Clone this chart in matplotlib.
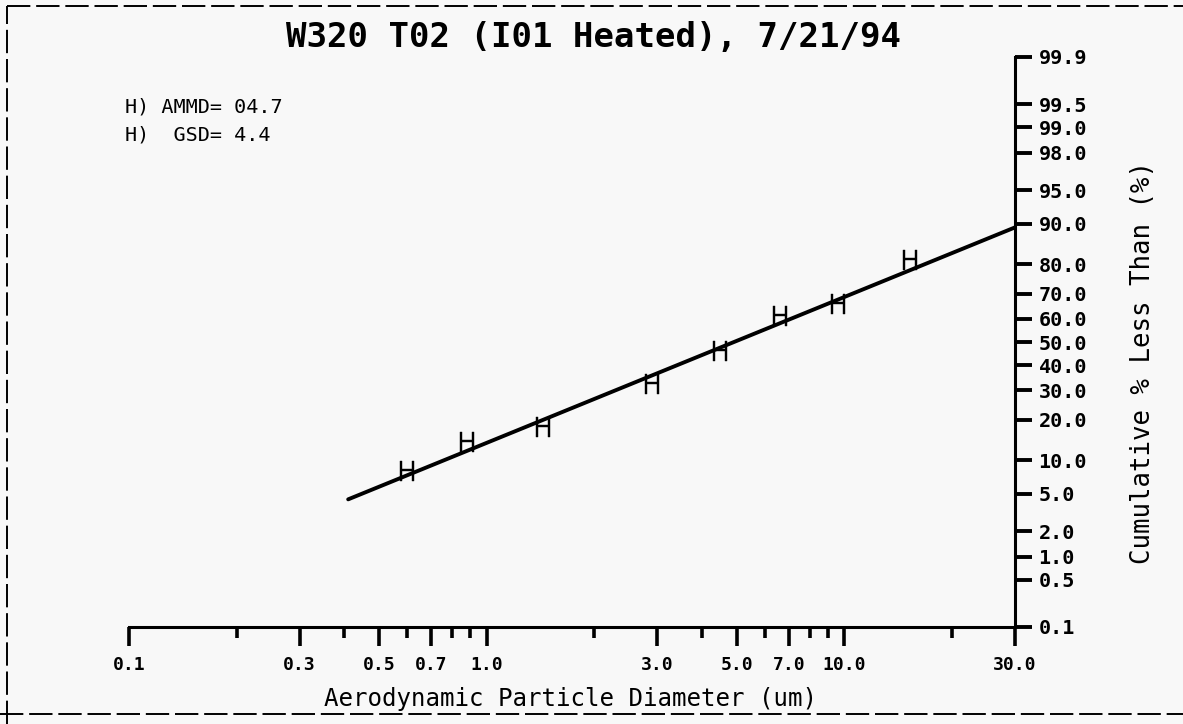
import math
from statistics import NormalDist
import numpy as np
import matplotlib
matplotlib.use("Agg")
import matplotlib.pyplot as plt
from matplotlib.ticker import FixedLocator, FixedFormatter, NullFormatter
from matplotlib.lines import Line2D

# ---- data ----
diameters = [0.60, 0.88, 1.44, 2.89, 4.49, 6.61, 9.61, 15.3]          # um
cum_percent = [8.1, 13.8, 17.7, 32.5, 46.3, 60.9, 65.8, 81.4]          # % less than
fit_diam = [0.41, 30.0]
fit_percent = [4.4, 89.3]

x_major = [0.1, 0.3, 0.5, 0.7, 1.0, 3.0, 5.0, 7.0, 10.0, 30.0]
x_major_labels = ["0.1", "0.3", "0.5", "0.7", "1.0", "3.0", "5.0", "7.0", "10.0", "30.0"]
x_minor = [0.2, 0.4, 0.6, 0.8, 0.9, 2.0, 4.0, 6.0, 8.0, 9.0, 20.0]
y_ticks = [0.1, 0.5, 1.0, 2.0, 5.0, 10.0, 20.0, 30.0, 40.0, 50.0, 60.0,
           70.0, 80.0, 90.0, 95.0, 98.0, 99.0, 99.5, 99.9]
y_tick_labels = ["0.1", "0.5", "1.0", "2.0", "5.0", "10.0", "20.0", "30.0", "40.0",
                 "50.0", "60.0", "70.0", "80.0", "90.0", "95.0", "98.0", "99.0",
                 "99.5", "99.9"]

title = "W320 T02 (I01 Heated), 7/21/94"
ann_lines = ["H) AMMD= 04.7", "H)  GSD= 4.4"]
xlabel = "Aerodynamic Particle Diameter (um)"
ylabel = "Cumulative % Less Than (%)"

# ---- probability (probit) scale ----
_nd = NormalDist()
_ppf = np.vectorize(_nd.inv_cdf, otypes=[float])
_erf = np.vectorize(math.erf, otypes=[float])


def fwd(p):
    p = np.asarray(p, dtype=float)
    q = np.clip(p / 100.0, 1e-9, 1 - 1e-9)
    return _ppf(q)


def inv(z):
    z = np.asarray(z, dtype=float)
    return 100.0 * 0.5 * (1.0 + _erf(z / math.sqrt(2.0)))


BG = "#f8f8f8"
mono = "DejaVu Sans Mono"

W, H = 1183, 724
fig = plt.figure(figsize=(W / 100, H / 100), dpi=100, facecolor=BG)
ax = fig.add_axes([129 / W, 1 - 627 / H, (1015 - 129) / W, (627 - 57) / H])
ax.set_facecolor(BG)

ax.set_xscale("log")
ax.set_yscale("function", functions=(fwd, inv))
ax.set_xlim(0.1, 30)
ax.set_ylim(0.1, 99.9)

ax.plot(fit_diam, fit_percent, color="black", lw=2.8, solid_capstyle="round")
ax.plot(diameters, cum_percent, linestyle="none", marker=r"$\mathrm{H}$",
        markersize=14, color="black", markeredgewidth=0.3)

for s in ("top", "left"):
    ax.spines[s].set_visible(False)
for s in ("bottom", "right"):
    ax.spines[s].set_linewidth(2.2)

ax.xaxis.set_major_locator(FixedLocator(x_major))
ax.xaxis.set_major_formatter(FixedFormatter(x_major_labels))
ax.xaxis.set_minor_locator(FixedLocator(x_minor))
ax.xaxis.set_minor_formatter(NullFormatter())
ax.tick_params(axis="x", which="major", direction="out", length=14, width=2.6,
               pad=7, labelsize=13)
ax.tick_params(axis="x", which="minor", direction="out", length=8, width=2.6)

ax.yaxis.tick_right()
ax.yaxis.set_label_position("right")
ax.yaxis.set_major_locator(FixedLocator(y_ticks))
ax.yaxis.set_major_formatter(FixedFormatter(y_tick_labels))
ax.yaxis.set_minor_locator(FixedLocator([]))
ax.tick_params(axis="y", which="major", direction="out", length=12, width=2.8,
               pad=5, labelsize=14.5, left=False, right=True)

for lab in ax.get_xticklabels() + ax.get_yticklabels():
    lab.set_fontfamily(mono)
    lab.set_fontweight("bold")

fig.text(594 / W, 1 - 37 / H, title, ha="center", va="center",
         fontsize=24.5, fontfamily=mono, fontweight="bold")
fig.text(125 / W, 1 - 107 / H, ann_lines[0], ha="left", va="center",
         fontsize=14.5, fontfamily=mono)
fig.text(125 / W, 1 - 135 / H, ann_lines[1], ha="left", va="center",
         fontsize=14.5, fontfamily=mono)
fig.text(570 / W, 1 - 699 / H, xlabel, ha="center", va="center",
         fontsize=17.4, fontfamily=mono)
fig.text(1143 / W, 1 - 362 / H, ylabel, ha="center", va="center",
         rotation=90, fontsize=18.5, fontfamily=mono)

# scanned page frame (dashed)
frame_kw = dict(color="black", lw=1.4, linestyle=(0, (12, 3)), transform=fig.transFigure)
fig.add_artist(Line2D([7 / W, 1.0], [1 - 6 / H, 1 - 6 / H], **frame_kw))
fig.add_artist(Line2D([7 / W, 7 / W], [0.0, 1 - 6 / H], **frame_kw))
fig.add_artist(Line2D([0.0, 1.0], [1 - 714 / H, 1 - 714 / H], **frame_kw))

fig.savefig("out.png", dpi=100, facecolor=BG)
